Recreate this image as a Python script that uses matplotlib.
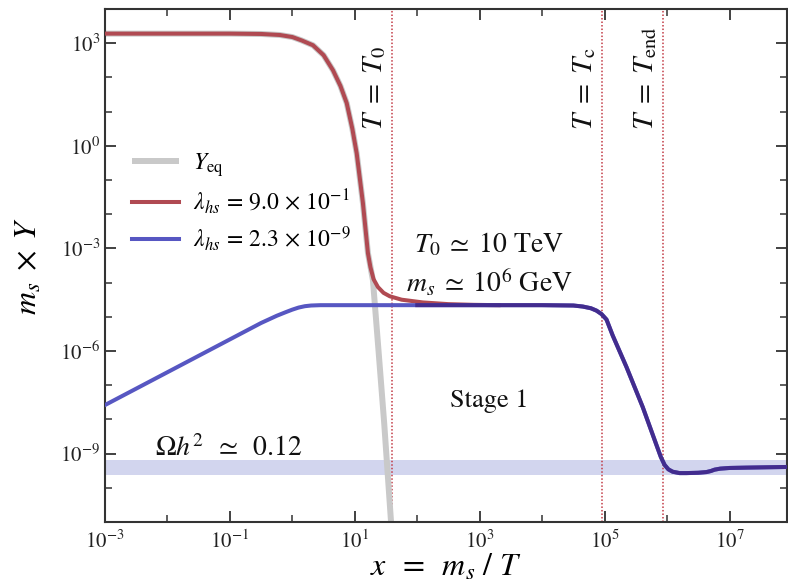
import numpy as np
import matplotlib
matplotlib.use("Agg")
import matplotlib.pyplot as plt
from matplotlib.ticker import NullFormatter

plt.rcParams['font.family'] = 'serif'
plt.rcParams['font.serif'] = ['STIXGeneral', 'DejaVu Serif']
plt.rcParams['mathtext.fontset'] = 'stix'

# ---- data (log10 values) ----
yeq_logx = [-3, -1.0, -0.5, -0.2, 0.0, 0.15, 0.33, 0.5, 0.65, 0.77, 0.87, 0.96, 1.03, 1.13, 1.21, 1.29, 1.38, 1.47, 1.58, 1.64]
yeq_logy = [3.28, 3.28, 3.27, 3.24, 3.18, 3.08, 2.94, 2.65, 2.21, 1.75, 1.25, 0.50, -0.22, -1.68, -3.14, -3.93, -6.0, -8.1, -11.0, -12.5]

red_logx = [-3, -1.0, -0.5, -0.2, 0.0, 0.15, 0.33, 0.5, 0.65, 0.77, 0.87, 0.96, 1.03, 1.13, 1.21, 1.25, 1.30, 1.37, 1.46, 1.56, 1.75, 2.09, 2.5, 2.9, 3.3]
red_logy = [3.28, 3.28, 3.27, 3.24, 3.18, 3.08, 2.94, 2.65, 2.21, 1.75, 1.25, 0.50, -0.22, -1.68, -3.14, -3.55, -3.90, -4.13, -4.30, -4.40, -4.50, -4.58, -4.63, -4.65, -4.66]

blue_logx = [-3, -2, -1, -0.5, -0.25, -0.1, 0.0, 0.1, 0.2, 0.3, 0.45, 0.6, 1, 2, 3, 4, 4.5, 4.65, 4.78, 4.87, 4.95, 5.03, 5.13, 5.35, 5.61, 5.83, 5.90, 5.96, 6.02, 6.09, 6.2, 6.31, 6.5, 6.63, 6.70, 6.76, 6.85, 7.0, 7.27, 7.95]
blue_logy = [-7.58, -6.62, -5.66, -5.18, -4.97, -4.86, -4.79, -4.73, -4.69, -4.67, -4.66, -4.66, -4.66, -4.66, -4.66, -4.66, -4.67, -4.70, -4.75, -4.82, -4.92, -5.08, -5.55, -6.47, -7.64, -8.75, -9.10, -9.33, -9.46, -9.53, -9.57, -9.57, -9.56, -9.54, -9.51, -9.47, -9.44, -9.42, -9.41, -9.39]

# vertical markers: T0, Tc, Tend (x positions)
vline_logx = [1.59, 4.95, 5.93]
vline_labels = [r'$T\;=\;T_0$', r'$T\;=\;T_{\rm c}$', r'$T\;=\;T_{\rm end}$']

# relic-density band
band_low, band_high = 2.3e-10, 6.3e-10

fig = plt.figure(figsize=(7.88, 5.88), dpi=100)
ax = fig.add_axes([105/788, 1-522/588, 682/788, 513/588])

ax.axhspan(band_low, band_high, color='#d2d5ee', zorder=0, lw=0)

for lx in vline_logx:
    ax.axvline(10**lx, color='#c23a45', ls=(0, (1, 1.3)), lw=1.1, zorder=1)

yeq_x = 10**np.array(yeq_logx); yeq_y = 10**np.array(yeq_logy)
red_x = 10**np.array(red_logx); red_y = 10**np.array(red_logy)
blue_x = 10**np.array(blue_logx); blue_y = 10**np.array(blue_logy)

ax.plot(yeq_x, yeq_y, color='#c9c9c9', lw=4.3, solid_capstyle='butt', zorder=2, label=r'$Y_{\rm eq}$')
ax.plot(red_x, red_y, color='#b04a52', lw=2.9, zorder=3, label=r'$\lambda_{hs}\, =\, 9.0 \,\times\, 10^{-1}$')
ax.plot(blue_x, blue_y, color='#5757c2', lw=2.9, zorder=4, label=r'$\lambda_{hs}\, =\, 2.3 \,\times\, 10^{-9}$')
ov = blue_x >= 10**1.6
ax.plot(blue_x[ov], blue_y[ov], color='#3f2585', lw=2.9, zorder=5, alpha=0.85)

ax.set_xscale('log')
ax.set_yscale('log')
ax.set_xticks([1e-3, 1e-1, 1e1, 1e3, 1e5, 1e7])
ax.set_xticks([1e-2, 1e0, 1e2, 1e4, 1e6], minor=True)
ax.xaxis.set_minor_formatter(NullFormatter())
ax.set_yticks([1e3, 1e0, 1e-3, 1e-6, 1e-9])
ax.set_yticks([10.0**k for k in range(-11, 5) if k % 3 != 0], minor=True)
ax.yaxis.set_minor_formatter(NullFormatter())
ax.set_xlim(1e-3, 10**7.92)
ax.set_ylim(1e-11, 1e4)

ax.tick_params(which='both', direction='in', top=True, right=True, colors='#333333', labelcolor='#222222', labelsize=15)
ax.tick_params(which='major', length=8, width=1.3)
ax.tick_params(which='minor', length=5, width=1.1)
ax.tick_params(axis='x', which='major', pad=6)
for s in ax.spines.values():
    s.set_linewidth(1.5)
    s.set_color('#333333')

ax.set_xlabel(r'$x \;\;=\;\; m_s\ /\ T$', fontsize=23, labelpad=0)
ax.set_ylabel(r'$m_s \;\times\; Y$', fontsize=23, labelpad=12)

# rotated labels next to vertical lines
for lx, lab in zip(vline_logx, vline_labels):
    ax.text(10**(lx - 0.06), 10**0.45, lab, rotation=90, ha='right', va='bottom', fontsize=21, color='#111111')

ax.text(10**3.15, 10**-2.9, r'$T_0\;\simeq\;$10 TeV', ha='center', va='center', fontsize=20, color='#111111')
ax.text(10**3.15, 10**-4.0, r'$m_s\;\simeq\;10^6$ GeV', ha='center', va='center', fontsize=20, color='#111111')
ax.text(10**3.15, 10**-7.45, 'Stage 1', ha='center', va='center', fontsize=19, color='#111111')
ax.text(10**-2.2, 10**-8.85, r'$\Omega h^2\;\;\simeq\;\;0.12$', ha='left', va='center', fontsize=20, color='#111111')

leg = ax.legend(loc='upper left', bbox_to_anchor=(0.015, 0.755), frameon=False, fontsize=17,
                handlelength=2.0, handletextpad=0.6, labelspacing=0.35, borderaxespad=0.3)

fig.savefig('out.png', dpi=100)
